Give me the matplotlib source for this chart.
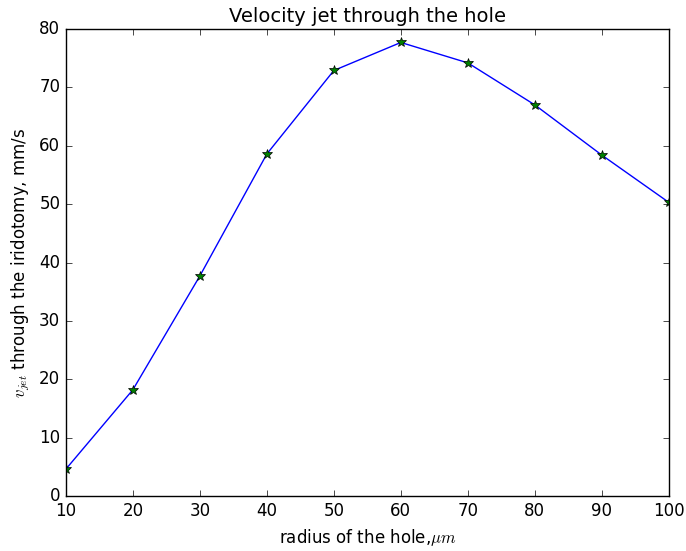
import matplotlib
matplotlib.use("Agg")
import matplotlib.pyplot as plt

plt.style.use("classic")

radius = [10, 20, 30, 40, 50, 60, 70, 80, 90, 100]
velocity = [4.6, 18.2, 37.7, 58.6, 72.9, 77.7, 74.2, 67.0, 58.4, 50.3]

fig = plt.figure(figsize=(6.86, 5.51), dpi=100, facecolor="white")
ax = fig.add_axes([0.096, 0.0998, 0.879, 0.8475])

ax.plot(radius, velocity, color="blue", linewidth=1)
ax.plot(radius, velocity, linestyle="none", marker="*", markersize=7,
        markerfacecolor="green", markeredgecolor="black", markeredgewidth=0.5)

ax.set_xlim(10, 100)
ax.set_ylim(0, 80)
ax.set_title("Velocity jet through the hole", fontsize=14)
ax.set_xlabel(r"radius of the hole,$\mu m$", fontsize=12)
ax.set_ylabel(r"$v_{jet}$ through the iridotomy, mm/s", fontsize=12)
ax.tick_params(labelsize=12)

fig.savefig("out.png", dpi=100, facecolor="white")
